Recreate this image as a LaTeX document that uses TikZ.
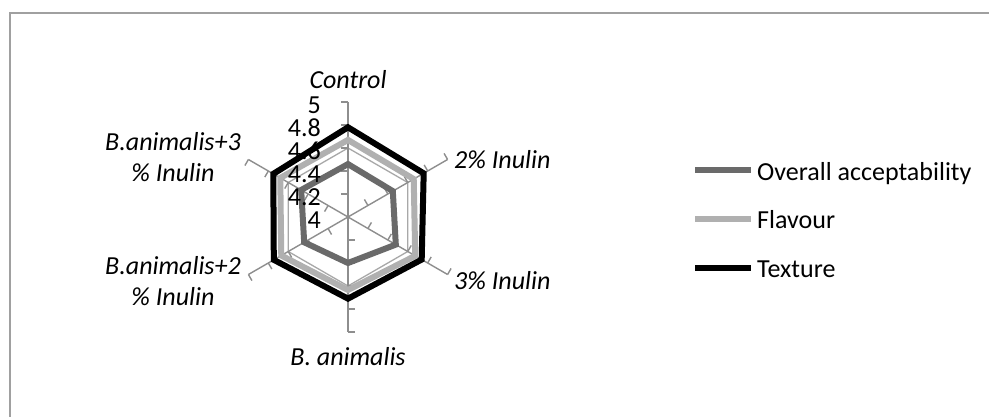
\documentclass[tikz,border=0pt]{standalone}
\usepackage{fontspec}
\setmainfont{Carlito}
\usetikzlibrary{calc}
\definecolor{framegray}{HTML}{A0A0A0}
\definecolor{spokegray}{HTML}{8E8E8E}
\definecolor{gridgray}{HTML}{A8A8A8}
\definecolor{overallc}{HTML}{6A6A6A}
\definecolor{flavourc}{HTML}{B0B0B0}
\definecolor{texturec}{HTML}{000000}
\begin{document}
\begin{tikzpicture}[x=1pt,y=1pt,
  spoke/.style={draw=spokegray, line width=1.4pt},
  gridln/.style={draw=gridgray, line width=1.3pt},
  ser/.style={line width=6pt, line join=miter},
  lbl/.style={font=\fontsize{26}{31}\selectfont\itshape, align=center, inner sep=0pt},
  num/.style={font=\fontsize{26}{30}\selectfont, anchor=east, inner sep=0pt},
  leg/.style={font=\fontsize{26}{30}\selectfont, anchor=base west, inner sep=0pt},
  legline/.style={line width=5.5pt}]
\useasboundingbox (0,0) rectangle (989,417);
\fill[white] (0,0) rectangle (989,417);
\draw[framegray, line width=2pt] (10,0) -- (10,403.5) -- (989,403.5);
\coordinate (O) at (348,200);
% grid hexagon at 4.6
\draw[gridln] ($(O)+(90:69)$) -- ($(O)+(30:69)$) -- ($(O)+(-30:69)$) -- ($(O)+(-90:69)$) -- ($(O)+(-150:69)$) -- ($(O)+(150:69)$) -- cycle;
% spokes with ticks
\foreach \a [count=\i] in {90,30,-30,-90,-150,150} {
  \draw[spoke] (O) -- ($(O)+(\a:115)$) coordinate (s\i);
  \foreach \k in {1,...,5} {
    \draw[spoke] ($(O)+(\a:\k*23)$) -- ++({\a+90}:7);
  }
}
% series
\draw[ser, overallc] ($(O)+(90:{0.46*115})$) coordinate (o1) -- ($(O)+(30:{0.45*115})$) coordinate (o2) -- ($(O)+(-30:{0.48*115})$) coordinate (o3) -- ($(O)+(-90:{0.40*115})$) coordinate (o4) -- ($(O)+(-150:{0.44*115})$) coordinate (o5) -- ($(O)+(150:{0.47*115})$) coordinate (o6) -- cycle;
\draw[ser, flavourc] ($(O)+(90:{0.67*115})$) coordinate (f1) -- ($(O)+(30:{0.66*115})$) coordinate (f2) -- ($(O)+(-30:{0.675*115})$) coordinate (f3) -- ($(O)+(-90:{0.635*115})$) coordinate (f4) -- ($(O)+(-150:{0.67*115})$) coordinate (f5) -- ($(O)+(150:{0.68*115})$) coordinate (f6) -- cycle;
\draw[ser, texturec] ($(O)+(90:{0.78*115})$) coordinate (t1) -- ($(O)+(30:{0.76*115})$) coordinate (t2) -- ($(O)+(-30:{0.74*115})$) coordinate (t3) -- ($(O)+(-90:{0.71*115})$) coordinate (t4) -- ($(O)+(-150:{0.745*115})$) coordinate (t5) -- ($(O)+(150:{0.75*115})$) coordinate (t6) -- cycle;
% axis numbers
\node[num] (n5) at (321,312) {5};
\node[num] (n48) at (321,289) {4.8};
\node[num] (n46) at (321,266) {4.6};
\node[num] (n44) at (321,243) {4.4};
\node[num] (n42) at (321,220) {4.2};
\node[num] (n4) at (321,197) {4};
% category labels
\node[lbl] (lc) at (348,337) {Control};
\node[lbl, anchor=west] (l2) at (454,257) {2\% Inulin};
\node[lbl, anchor=west] (l3) at (454,136) {3\% Inulin};
\node[lbl] (lb) at (348,60) {B. animalis};
\node[lbl] (lb2) at (173,136) {B.animalis+2\\\% Inulin};
\node[lbl] (lb3) at (173,260) {B.animalis+3\\\% Inulin};
% legend
\coordinate (g1a) at (695,247); \coordinate (g1b) at (751,247);
\coordinate (g2a) at (695,198); \coordinate (g2b) at (751,198);
\coordinate (g3a) at (695,149); \coordinate (g3b) at (751,149);
\draw[legline, overallc] (g1a) -- (g1b);
\draw[legline, flavourc] (g2a) -- (g2b);
\draw[legline, texturec] (g3a) -- (g3b);
\node[leg] (e1) at (757,236.5) {Overall acceptability};
\node[leg] (e2) at (757,188.5) {Flavour};
\node[leg] (e3) at (757,139.5) {Texture};
\end{tikzpicture}
\end{document}
